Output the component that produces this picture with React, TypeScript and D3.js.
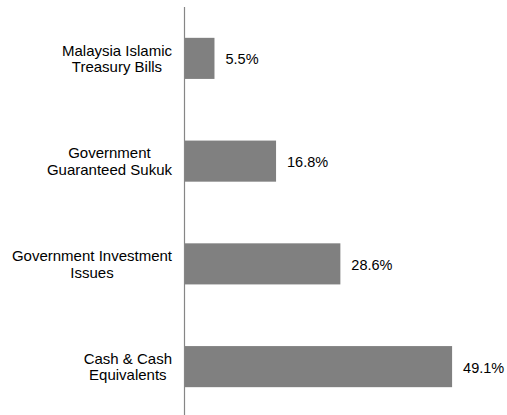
import React, { useEffect, useRef } from "react";
import * as d3 from "d3";

const categories: string[][] = [
  ["Malaysia Islamic", "Treasury Bills"],
  ["Government", "Guaranteed Sukuk"],
  ["Government Investment", "Issues"],
  ["Cash & Cash", "Equivalents"],
];
const values: number[] = [5.5, 16.8, 28.6, 49.1];
const valueLabels: string[] = ["5.5%", "16.8%", "28.6%", "49.1%"];

const W = 507;
const H = 415;

export default function App() {
  const ref = useRef<SVGSVGElement>(null);

  useEffect(() => {
    const svg = d3.select(ref.current);
    svg.selectAll("*").remove();
    const idx = values.map((_, i) => String(i));
    const x = d3.scaleLinear().domain([0, 60]).range([184.5, 511.5]);
    const y = d3.scaleBand().domain(idx).range([7, 418]).paddingInner(0.6).paddingOuter(0.3);

    svg
      .selectAll("rect.bar")
      .data(values)
      .enter()
      .append("rect")
      .attr("class", "bar")
      .attr("x", x(0))
      .attr("y", (_, i) => y(String(i))!)
      .attr("width", (d) => x(d) - x(0))
      .attr("height", y.bandwidth())
      .attr("fill", "#808080");

    svg
      .append("line")
      .attr("x1", x(0))
      .attr("x2", x(0))
      .attr("y1", 7)
      .attr("y2", H)
      .attr("stroke", "#868686")
      .attr("stroke-width", 1.2);

    svg
      .selectAll("text.val")
      .data(values)
      .enter()
      .append("text")
      .attr("class", "val")
      .attr("x", (d) => x(d) + 11)
      .attr("y", (_, i) => y(String(i))! + y.bandwidth() / 2 + 1)
      .attr("dominant-baseline", "central")
      .attr("font-family", "Liberation Sans, Arial, sans-serif")
      .attr("font-size", 14.5)
      .attr("fill", "#000")
      .text((_, i) => valueLabels[i]);

    const rightEdge = 172;
    categories.forEach((lines, i) => {
      const g = svg.append("g");
      const cy = y(String(i))! + y.bandwidth() / 2;
      const texts = lines.map((ln, j) =>
        g
          .append("text")
          .attr("y", cy + (j - (lines.length - 1) / 2) * 16.5)
          .attr("dominant-baseline", "central")
          .attr("text-anchor", "middle")
          .attr("font-family", "Liberation Sans, Arial, sans-serif")
          .attr("font-size", 15)
          .attr("fill", "#000")
          .text(ln)
      );
      const maxW = d3.max(texts, (t) => (t.node() as SVGTextElement).getComputedTextLength()) || 0;
      texts.forEach((t) => t.attr("x", rightEdge - maxW / 2));
    });
  }, []);

  return (
    <svg
      ref={ref}
      width={W}
      height={H}
      style={{ position: "absolute", left: 0, top: 0, background: "#fff" }}
    />
  );
}
